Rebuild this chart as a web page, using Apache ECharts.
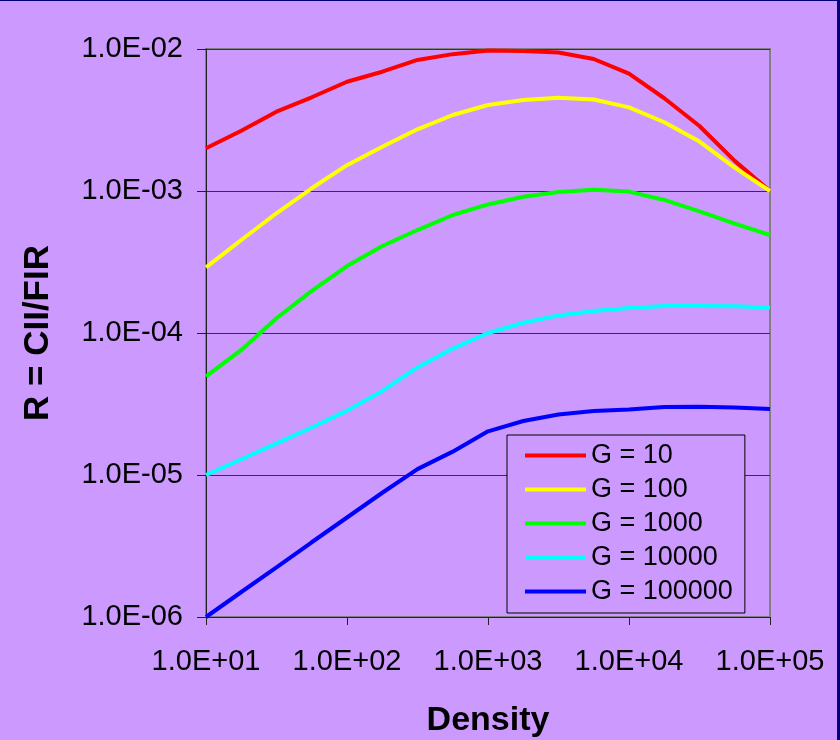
<!DOCTYPE html>
<html>
<head>
<meta charset="utf-8">
<script src="https://cdn.jsdelivr.net/npm/echarts@6/dist/echarts.min.js"></script>
<style>
  body { margin: 0; }
  #wrap { position: relative; width: 840px; height: 740px; }
  #chart { width: 840px; height: 740px; background: #cc99ff; }
  #frame {
    position: absolute; left: 0; top: 0; right: 0; bottom: 0;
    border-top: 1px solid #000080; border-right: 3px solid #000080;
    pointer-events: none;
  }
</style>
</head>
<body>
<div id="wrap">
  <div id="chart"></div>
  <div id="frame"></div>
</div>
<script>
// density values (quarter decades)
const density = [10, 17.8, 31.6, 56.2, 100, 178, 316, 562, 1000, 1780, 3160, 5620, 10000, 17800, 31600, 56200, 100000];

const seriesNames = ["G = 10", "G = 100", "G = 1000", "G = 10000", "G = 100000"];
const seriesColors = ["#ff0000", "#ffff00", "#00ff00", "#00ffff", "#0000ff"];

// R = CII/FIR
const g10 = [2.0e-3, 2.66e-3, 3.62e-3, 4.57e-3, 5.88e-3, 6.92e-3, 8.37e-3, 9.2e-3, 9.75e-3, 9.7e-3, 9.45e-3, 8.5e-3, 6.7e-3, 4.5e-3, 2.87e-3, 1.63e-3, 1.0e-3];
const g100 = [2.9e-4, 4.52e-4, 6.97e-4, 1.045e-3, 1.52e-3, 2.05e-3, 2.72e-3, 3.43e-3, 4.03e-3, 4.37e-3, 4.54e-3, 4.41e-3, 3.88e-3, 3.05e-3, 2.23e-3, 1.46e-3, 1.0e-3];
const g1000 = [4.95e-5, 7.6e-5, 1.27e-4, 1.98e-4, 2.96e-4, 4.1e-4, 5.31e-4, 6.78e-4, 8.04e-4, 9.12e-4, 9.84e-4, 1.02e-3, 9.9e-4, 8.65e-4, 7.18e-4, 5.9e-4, 4.9e-4];
const g10000 = [1.0e-5, 1.29e-5, 1.67e-5, 2.16e-5, 2.84e-5, 3.91e-5, 5.72e-5, 7.77e-5, 1.0e-4, 1.18e-4, 1.33e-4, 1.43e-4, 1.5e-4, 1.55e-4, 1.55e-4, 1.54e-4, 1.51e-4];
const g100000 = [1.0e-6, 1.5e-6, 2.24e-6, 3.36e-6, 5.02e-6, 7.5e-6, 1.1e-5, 1.46e-5, 2.03e-5, 2.4e-5, 2.67e-5, 2.82e-5, 2.89e-5, 3.01e-5, 3.03e-5, 2.99e-5, 2.92e-5];

const allValues = [g10, g100, g1000, g10000, g100000];

const font = "Arial, 'Liberation Sans', sans-serif";

function sci(v) {
  const e = Math.round(Math.log10(v));
  const s = e < 0 ? "-" : "+";
  const a = Math.abs(e);
  return "1.0E" + s + (a < 10 ? "0" + a : "" + a);
}

const chart = echarts.init(document.getElementById("chart"));

const series = allValues.map((vals, i) => {
  return {
    name: seriesNames[i],
    type: "line",
    symbol: "none",
    color: seriesColors[i],
    lineStyle: { width: 4, color: seriesColors[i] },
    data: vals.map((v, j) => [density[j], v]),
  };
});

const option = {
  backgroundColor: "#cc99ff",
  animation: false,
  grid: {
    left: 206,
    right: 70,
    top: 49,
    bottom: 123,
    outerBoundsMode: "none",
    show: true,
    borderColor: "#808080",
    borderWidth: 2,
  },
  legend: {
    orient: "vertical",
    left: 507,
    top: 435,
    padding: [7, 12, 8, 18],
    itemGap: 7,
    itemWidth: 61,
    itemHeight: 4,
    icon: "rect",
    backgroundColor: "#cc99ff",
    borderColor: "#000000",
    borderWidth: 1,
    borderRadius: 0,
    textStyle: { fontFamily: font, fontSize: 27, lineHeight: 27, color: "#000" },
    data: seriesNames,
  },
  xAxis: {
    type: "log",
    logBase: 10,
    min: 10,
    max: 100000,
    name: "Density",
    nameLocation: "middle",
    nameGap: 87,
    nameTextStyle: { fontFamily: font, fontSize: 34, lineHeight: 34, fontWeight: "bold", color: "#000" },
    axisLine: { lineStyle: { color: "#222", width: 1 } },
    axisTick: { show: true, length: 8, lineStyle: { color: "#222" } },
    axisLabel: {
      fontFamily: font, fontSize: 29, lineHeight: 29, color: "#000", margin: 30,
      formatter: sci,
    },
    splitLine: { show: false },
    minorTick: { show: false },
  },
  yAxis: {
    type: "log",
    logBase: 10,
    min: 1e-6,
    max: 1e-2,
    name: "R = CII/FIR",
    nameLocation: "middle",
    nameRotate: 90,
    nameGap: 150,
    nameTextStyle: { fontFamily: font, fontSize: 35, lineHeight: 35, fontWeight: "bold", color: "#000" },
    axisLine: { show: true, lineStyle: { color: "#222", width: 1 } },
    axisTick: { show: true, length: 9, lineStyle: { color: "#222" } },
    axisLabel: {
      fontFamily: font, fontSize: 29, color: "#000", margin: 23,
      formatter: sci,
    },
    splitLine: { show: true, lineStyle: { color: "#333", width: 1 } },
  },
  series: series,
};

chart.setOption(option);
</script>
</body>
</html>
